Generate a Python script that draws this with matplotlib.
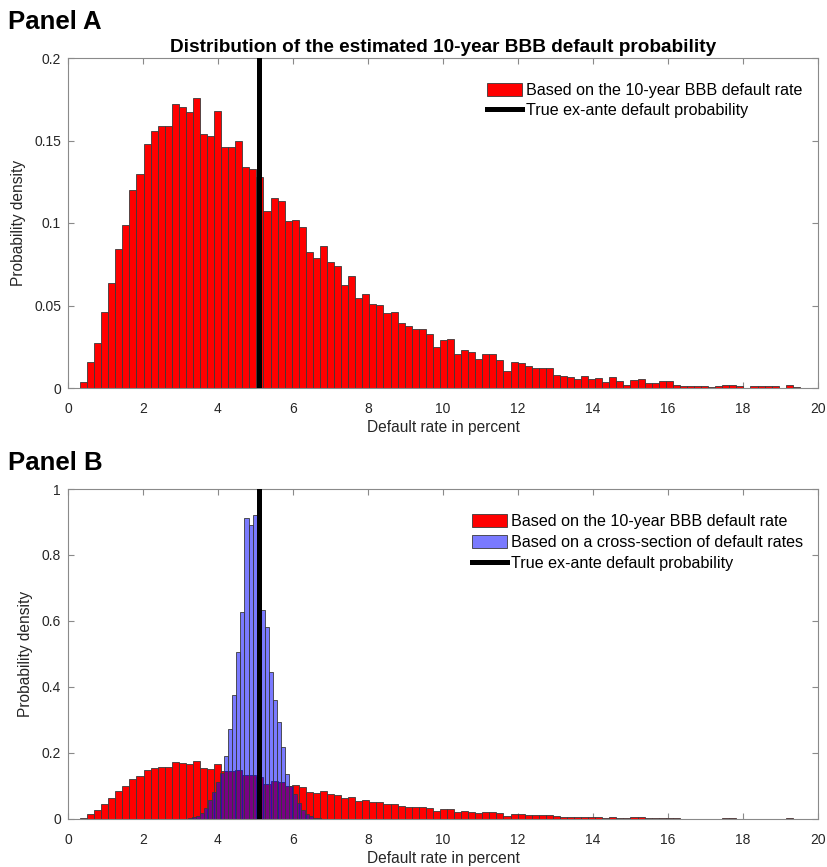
import numpy as np
import matplotlib
matplotlib.use('Agg')
import matplotlib.pyplot as plt
from matplotlib.patches import Patch
from matplotlib.lines import Line2D
from matplotlib.ticker import FuncFormatter

# ---------------- data ----------------
red_bin_start = 0.32
red_bin_width = 0.1882
red_density = [
    0.0039, 0.0160, 0.0274, 0.0460, 0.0634, 0.0845, 0.0990, 0.1198, 0.1295, 0.1480,
    0.1556, 0.1585, 0.1589, 0.1720, 0.1704, 0.1674, 0.1755, 0.1540, 0.1526, 0.1678,
    0.1463, 0.1463, 0.1500, 0.1337, 0.1330, 0.1277, 0.1072, 0.1151, 0.1135, 0.1015,
    0.1017, 0.0973, 0.0825, 0.0786, 0.0859, 0.0764, 0.0738, 0.0624, 0.0677, 0.0543,
    0.0567, 0.0509, 0.0503, 0.0452, 0.0458, 0.0395, 0.0373, 0.0359, 0.0359, 0.0326,
    0.0247, 0.0288, 0.0298, 0.0204, 0.0231, 0.0216, 0.0178, 0.0206, 0.0204, 0.0170,
    0.0101, 0.0158, 0.0150, 0.0135, 0.0123, 0.0123, 0.0119, 0.0081, 0.0075, 0.0064,
    0.0052, 0.0075, 0.0052, 0.0062, 0.0036, 0.0066, 0.0042, 0.0017, 0.0046, 0.0055,
    0.0030, 0.0030, 0.0042, 0.0040, 0.0020, 0.0014, 0.0014, 0.0014, 0.0012, 0.0004,
    0.0010, 0.0016, 0.0020, 0.0014, 0.0003, 0.0010, 0.0010, 0.0010, 0.0010, 0.0000,
    0.0016, 0.0008,
]

blue_bin_start = 2.87
blue_bin_width = 0.108
blue_density = [
    0.0005, 0.0010, 0.0015, 0.0030, 0.0060, 0.0100, 0.0170, 0.0330, 0.0580, 0.0820,
    0.1120, 0.1380, 0.1900, 0.2730, 0.3760, 0.5070, 0.6280, 0.9120, 0.8920, 0.9220,
    0.7800, 0.6320, 0.5820, 0.4440, 0.3620, 0.2940, 0.2170, 0.1350, 0.1000, 0.0750,
    0.0500, 0.0280, 0.0150, 0.0080, 0.0040, 0.0020, 0.0010,
]

true_pd = 5.08

xticks = [0, 2, 4, 6, 8, 10, 12, 14, 16, 18, 20]
yticks_a = [0, 0.05, 0.1, 0.15, 0.2]
yticks_b = [0, 0.2, 0.4, 0.6, 0.8, 1]

title_a = "Distribution of the estimated 10-year BBB default probability"
label_red = "Based on the 10-year BBB default rate"
label_blue = "Based on a cross-section of default rates"
label_line = "True ex-ante default probability"
xlabel = "Default rate in percent"
ylabel = "Probability density"

# ---------------- style ----------------
plt.rcParams['font.family'] = ['Liberation Sans', 'DejaVu Sans']
W, H = 828, 867
fig = plt.figure(figsize=(W / 100, H / 100), dpi=100)

spine_col = '#8a8a8a'
text_col = '#262626'
red_face = '#ff0000'
blue_face = (0.0, 0.0, 1.0, 0.52)
edge_col = '#3a3a3a'
leg_fs = 11.6


def px_axes(left, top, right, bottom):
    return fig.add_axes([left / W, 1 - bottom / H, (right - left) / W, (bottom - top) / H])


fmt = FuncFormatter(lambda v, p: ('%g' % round(v, 4)))


def style(ax, yticks, ymax):
    ax.set_xlim(0, 20)
    ax.set_ylim(0, ymax)
    ax.set_xticks(xticks)
    ax.set_yticks(yticks)
    ax.xaxis.set_major_formatter(fmt)
    ax.yaxis.set_major_formatter(fmt)
    for s in ax.spines.values():
        s.set_color(spine_col)
        s.set_linewidth(0.8)
    ax.tick_params(direction='in', length=4, width=0.8, color=spine_col,
                   labelsize=10, labelcolor=text_col, top=True, right=True)
    ax.tick_params(axis='x', pad=10)
    ax.tick_params(axis='y', pad=5)
    ax.set_xlabel(xlabel, fontsize=11.2, color=text_col, labelpad=3)
    ax.set_ylabel(ylabel, fontsize=11.2, color=text_col, labelpad=6)


red_edges = red_bin_start + red_bin_width * np.arange(len(red_density))
blue_edges = blue_bin_start + blue_bin_width * np.arange(len(blue_density))

# ---------------- Panel A ----------------
axA = px_axes(68, 58, 818, 388)
axA.bar(red_edges, red_density, width=red_bin_width, align='edge',
        color=red_face, edgecolor=edge_col, linewidth=0.6, zorder=2)
axA.axvline(true_pd, color='black', linewidth=3.6, zorder=3)
style(axA, yticks_a, 0.2)
axA.set_title(title_a, fontsize=13.7, fontweight='bold', color='black', pad=4)

hA = [Patch(facecolor=red_face, edgecolor=edge_col, linewidth=0.6),
      Line2D([0], [0], color='black', linewidth=3.6)]
axA.legend(hA, [label_red, label_line], loc='upper left',
           bbox_to_anchor=(487 / W, 1 - 83 / H), bbox_transform=fig.transFigure,
           frameon=False, fontsize=leg_fs, borderpad=0, borderaxespad=0,
           handlelength=2.2, handleheight=0.85, handletextpad=0.2,
           labelspacing=0.33)

# ---------------- Panel B ----------------
axB = px_axes(68, 489, 818, 819)
axB.bar(red_edges, red_density, width=red_bin_width, align='edge',
        color=red_face, edgecolor=edge_col, linewidth=0.6, zorder=2)
axB.bar(blue_edges, blue_density, width=blue_bin_width, align='edge',
        color=blue_face, edgecolor=edge_col, linewidth=0.6, zorder=2.5)
axB.axvline(true_pd, color='black', linewidth=3.6, zorder=3)
style(axB, yticks_b, 1)

hB = [Patch(facecolor=red_face, edgecolor=edge_col, linewidth=0.6),
      Patch(facecolor=blue_face, edgecolor=edge_col, linewidth=0.6),
      Line2D([0], [0], color='black', linewidth=3.6)]
axB.legend(hB, [label_red, label_blue, label_line], loc='upper left',
           bbox_to_anchor=(472 / W, 1 - 514 / H), bbox_transform=fig.transFigure,
           frameon=False, fontsize=leg_fs, borderpad=0, borderaxespad=0,
           handlelength=2.2, handleheight=0.85, handletextpad=0.2,
           labelspacing=0.38)

# ---------------- panel labels ----------------
fig.text(8 / W, 1 - 22 / H, "Panel A", fontsize=18.5, fontweight='bold',
         ha='left', va='center', color='black')
fig.text(8 / W, 1 - 463 / H, "Panel B", fontsize=18.5, fontweight='bold',
         ha='left', va='center', color='black')

fig.savefig('out.png', dpi=100, facecolor='white')
